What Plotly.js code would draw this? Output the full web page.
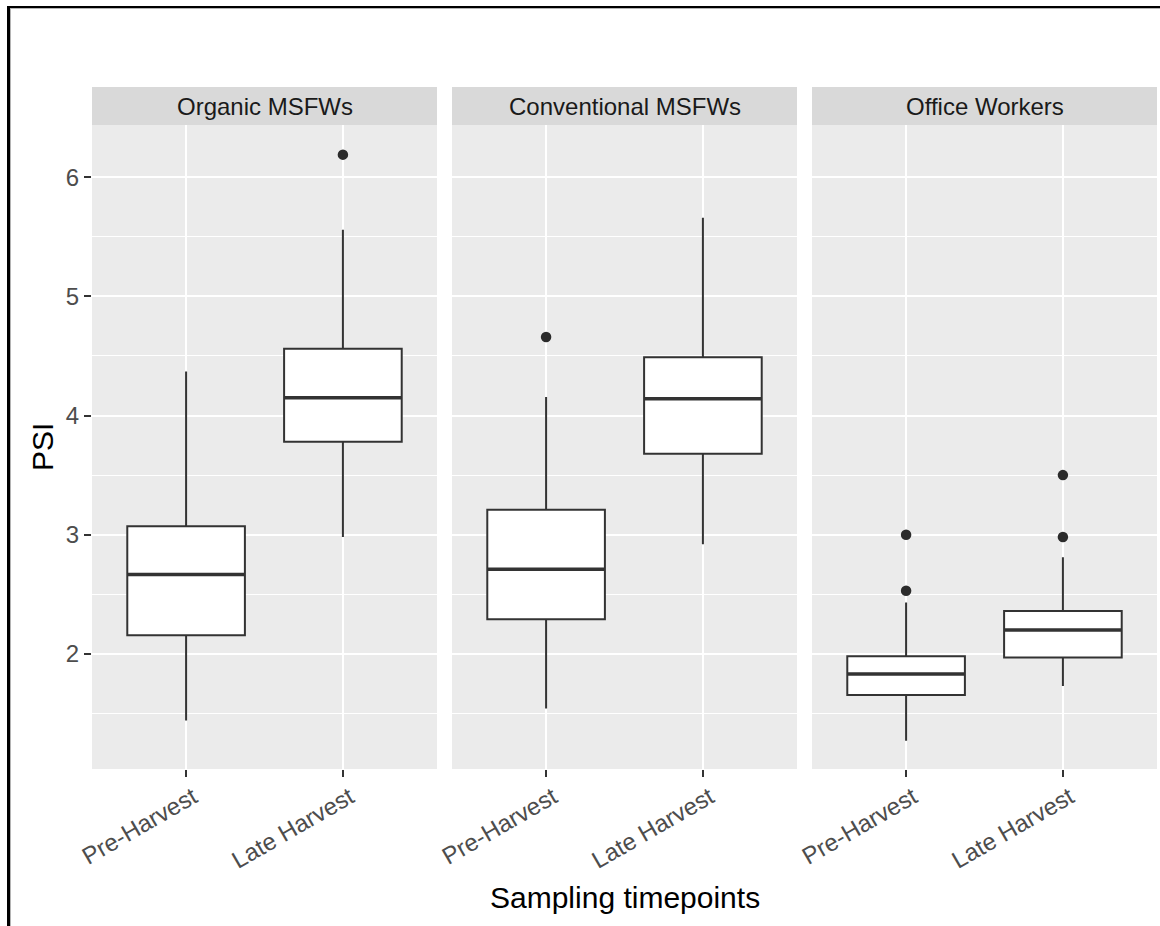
<!DOCTYPE html>
<html>
<head>
<meta charset="utf-8">
<script src="https://cdn.plot.ly/plotly-3.0.1.min.js"></script>
<style>
  html, body { margin: 0; padding: 0; background: #ffffff; }
  #wrap { position: relative; width: 1160px; height: 926px; overflow: hidden; }
  #chart { position: absolute; left: 0; top: 0; width: 1160px; height: 926px; }
  #frame { position: absolute; left: 7px; top: 6px; width: 1200px; height: 1000px;
           border-left: 3px solid #000; border-top: 2px solid #000; pointer-events: none; }
  #frame2 { position: absolute; left: 10px; top: 8px; width: 1200px; height: 1000px;
           border-left: 1px solid #b4b4b4; border-top: 1px solid #b4b4b4; pointer-events: none; }
</style>
</head>
<body>
<div id="wrap">
  <div id="chart"></div>
  <div id="frame"></div>
  <div id="frame2"></div>
</div>
<script>
// ---- data ----
const groups = ['Organic MSFWs', 'Conventional MSFWs', 'Office Workers'];
const timepoints = ['Pre-Harvest', 'Late Harvest'];

const organicLower  = [1.44, 2.98];
const organicQ1     = [2.155, 3.78];
const organicMedian = [2.665, 4.15];
const organicQ3     = [3.07, 4.56];
const organicUpper  = [4.37, 5.56];
const organicOutX   = ['Late Harvest'];
const organicOutY   = [6.19];

const conventionalLower  = [1.54, 2.92];
const conventionalQ1     = [2.29, 3.68];
const conventionalMedian = [2.71, 4.14];
const conventionalQ3     = [3.21, 4.49];
const conventionalUpper  = [4.155, 5.66];
const conventionalOutX   = ['Pre-Harvest'];
const conventionalOutY   = [4.66];

const officeLower  = [1.27, 1.73];
const officeQ1     = [1.655, 1.97];
const officeMedian = [1.83, 2.20];
const officeQ3     = [1.98, 2.36];
const officeUpper  = [2.43, 2.81];
const officeOutX   = ['Pre-Harvest', 'Pre-Harvest', 'Late Harvest', 'Late Harvest'];
const officeOutY   = [2.53, 3.00, 2.98, 3.50];

const yTickVals = [2, 3, 4, 5, 6];
const yTickText = ['2', '3', '4', '5', '6'];

// ---- build ----
const panels = [
  {lower: organicLower, q1: organicQ1, med: organicMedian, q3: organicQ3, upper: organicUpper, ox: organicOutX, oy: organicOutY},
  {lower: conventionalLower, q1: conventionalQ1, med: conventionalMedian, q3: conventionalQ3, upper: conventionalUpper, ox: conventionalOutX, oy: conventionalOutY},
  {lower: officeLower, q1: officeQ1, med: officeMedian, q3: officeQ3, upper: officeUpper, ox: officeOutX, oy: officeOutY}
];

const W = 1160, H = 926;
const panelPx = [[92, 437], [452, 797], [812, 1157]];
const plotTop = 125, plotBottom = 769, stripTop = 87;
const boxColor = '#333333';
const FONT = '"Liberation Sans", Arial, sans-serif';

const traces = [];
panels.forEach((p, i) => {
  const xa = i === 0 ? 'x' : 'x' + (i + 1);
  traces.push({
    type: 'box', xaxis: xa, yaxis: 'y',
    x: timepoints, q1: p.q1, median: p.med, q3: p.q3,
    lowerfence: p.lower, upperfence: p.upper,
    boxpoints: false, whiskerwidth: 0, width: 0.75,
    fillcolor: '#ffffff', line: {color: boxColor, width: 2},
    showlegend: false, hoverinfo: 'skip'
  });
  // thicker median line (ggplot fatten)
  traces.push({
    type: 'box', xaxis: xa, yaxis: 'y',
    x: timepoints, q1: p.med, median: p.med, q3: p.med,
    lowerfence: p.med, upperfence: p.med,
    boxpoints: false, whiskerwidth: 0, width: 0.75,
    fillcolor: 'rgba(0,0,0,0)', line: {color: boxColor, width: 3.5},
    showlegend: false, hoverinfo: 'skip'
  });
  traces.push({
    type: 'scatter', mode: 'markers', xaxis: xa, yaxis: 'y',
    x: p.ox, y: p.oy,
    marker: {color: '#2b2b2b', size: 10.5},
    showlegend: false, hoverinfo: 'skip', cliponaxis: false
  });
});

const xBase = {
  type: 'category', categoryorder: 'array', categoryarray: timepoints,
  range: [-0.6, 1.6], fixedrange: true,
  showgrid: true, gridcolor: '#ffffff', gridwidth: 2,
  zeroline: false, showline: false,
  ticks: 'outside', ticklen: 7, tickwidth: 2, tickcolor: boxColor,
  tickangle: -30,
  ticklabelshift: 7, ticklabelstandoff: -3,
  tickfont: {family: FONT, size: 24, color: '#4D4D4D'},
  anchor: 'y'
};

const layout = {
  width: W, height: H,
  margin: {l: 0, r: 0, t: 0, b: 0},
  paper_bgcolor: '#ffffff', plot_bgcolor: '#EBEBEB',
  boxmode: 'overlay',
  showlegend: false,
  xaxis:  Object.assign({}, xBase, {domain: [panelPx[0][0] / W, panelPx[0][1] / W]}),
  xaxis2: Object.assign({}, xBase, {domain: [panelPx[1][0] / W, panelPx[1][1] / W]}),
  xaxis3: Object.assign({}, xBase, {domain: [panelPx[2][0] / W, panelPx[2][1] / W]}),
  yaxis: {
    domain: [1 - plotBottom / H, 1 - plotTop / H],
    range: [1.033, 6.439], fixedrange: true,
    tickvals: yTickVals, ticktext: yTickText,
    showgrid: true, gridcolor: '#ffffff', gridwidth: 2,
    minor: {dtick: 0.5, showgrid: true, gridcolor: '#ffffff', gridwidth: 1, ticks: ''},
    zeroline: false, showline: false,
    ticks: 'outside', ticklen: 7, tickwidth: 2, tickcolor: boxColor,
    tickfont: {family: FONT, size: 24, color: '#4D4D4D'},
    anchor: 'x'
  },
  shapes: panelPx.map(px => ({
    type: 'rect', xref: 'paper', yref: 'paper', layer: 'below',
    x0: px[0] / W, x1: px[1] / W,
    y0: 1 - plotTop / H, y1: 1 - stripTop / H,
    fillcolor: '#D9D9D9', line: {width: 0}
  })),
  annotations: groups.map((g, i) => ({
    text: g, xref: 'paper', yref: 'paper', showarrow: false,
    x: (panelPx[i][0] + panelPx[i][1]) / 2 / W,
    y: 1 - ((plotTop + stripTop) / 2) / H,
    xanchor: 'center', yanchor: 'middle',
    font: {family: FONT, size: 24, color: '#1A1A1A'}
  })).concat([
    {
      text: 'Sampling timepoints', xref: 'paper', yref: 'paper', showarrow: false,
      x: (panelPx[0][0] + panelPx[2][1]) / 2 / W, y: 1 - 897 / H,
      xanchor: 'center', yanchor: 'middle',
      font: {family: FONT, size: 30, color: '#000000'}
    },
    {
      text: 'PSI', xref: 'paper', yref: 'paper', showarrow: false,
      x: 42 / W, y: 1 - ((plotTop + plotBottom) / 2) / H,
      xanchor: 'center', yanchor: 'middle', textangle: -90,
      font: {family: FONT, size: 30, color: '#000000'}
    }
  ])
};

Plotly.newPlot('chart', traces, layout, {staticPlot: true, displayModeBar: false});
</script>
</body>
</html>
